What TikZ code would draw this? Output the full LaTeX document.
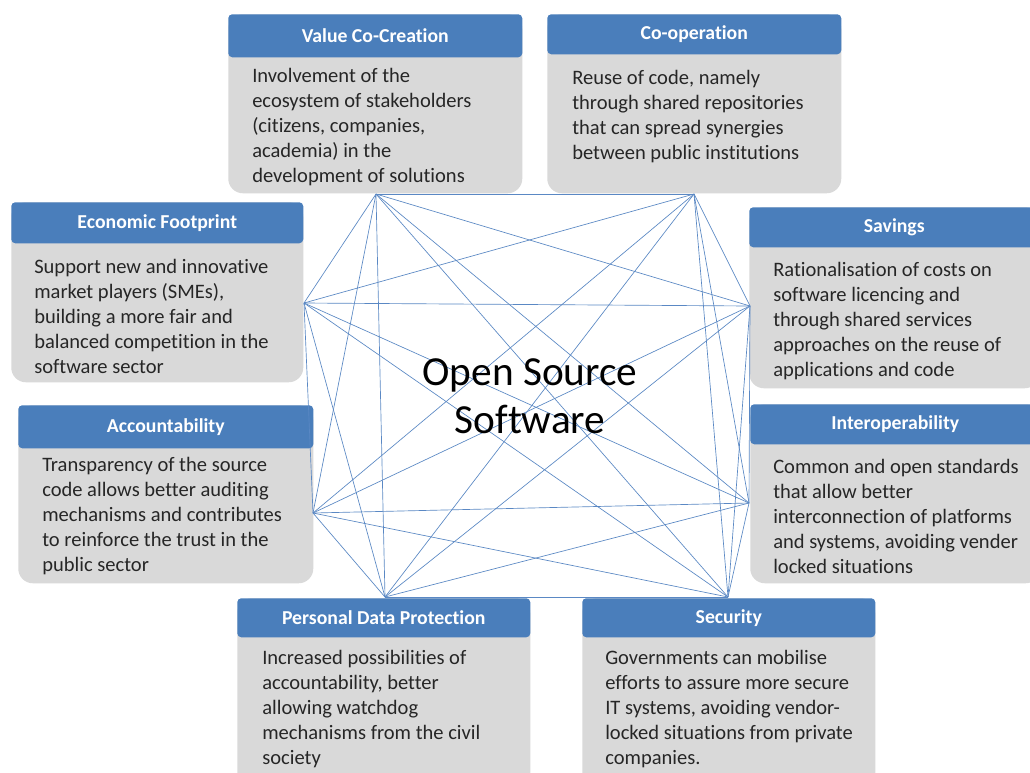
\documentclass[tikz,border=0pt]{standalone}
\usepackage{fontspec}
\setmainfont{Carlito}[RawFeature={-liga;-clig;-calt;-dlig}]
\usetikzlibrary{calc}
\definecolor{hdrblue}{HTML}{4A7EBB}
\definecolor{bodygray}{HTML}{D9D9D9}
\definecolor{linkblue}{HTML}{5A88C4}
\definecolor{ink}{HTML}{262626}
\begin{document}
\begin{tikzpicture}[x=0.75pt,y=-0.75pt,
  hdr/.style={fill=hdrblue, rounded corners=3pt, anchor=north west, inner sep=0pt,
    text=white, font=\bfseries\fontsize{14.8}{17}\selectfont},
  panel/.style={fill=bodygray, rounded corners=11pt, anchor=north west, inner sep=0pt},
  % anchored at the baseline of the last line
  blurb/.style={anchor=base west, align=left, inner sep=0pt, text=ink,
    font=\fontsize{15.4}{18.75}\selectfont},
  link/.style={draw=linkblue, line width=0.5pt}]

\useasboundingbox (0,0) rectangle (1030,772);
\fill[white] (0,0) rectangle (1030,772);

% ---- panels: body, header, description ----
% Value Co-Creation
\node[panel, minimum width=294*0.75pt, minimum height=179*0.75pt] (vB) at (228,14) {};
\node[hdr, minimum width=294*0.75pt, minimum height=43*0.75pt] (vH) at (228,14) {Value Co-Creation};
\node[blurb] (vT) at (252,182) {Involvement of the\\ecosystem of stakeholders\\(citizens, companies,\\academia) in the\\development of solutions};

% Co-operation
\node[panel, minimum width=294*0.75pt, minimum height=179*0.75pt] (cB) at (547,14) {};
\node[hdr, minimum width=294*0.75pt, minimum height=40*0.75pt] (cH) at (547,14) {Co-operation};
\node[blurb] (cT) at (572,159) {Reuse of code, namely\\through shared repositories\\that can spread synergies\\between public institutions};

% Economic Footprint
\node[panel, minimum width=292*0.75pt, minimum height=180*0.75pt] (eB) at (11,202) {};
\node[hdr, minimum width=292*0.75pt, minimum height=41*0.75pt] (eH) at (11,202) {Economic Footprint};
\node[blurb] (eT) at (34,373) {Support new and innovative\\market players (SMEs),\\building a more fair and\\balanced competition in the\\software sector};

% Savings
\node[panel, minimum width=290*0.75pt, minimum height=181*0.75pt] (sB) at (749,207) {};
\node[hdr, minimum width=290*0.75pt, minimum height=40*0.75pt] (sH) at (749,207) {Savings};
\node[blurb] (sT) at (773,376) {Rationalisation of costs on\\software licencing and\\through shared services\\approaches on the reuse of\\applications and code};

% Accountability
\node[panel, minimum width=295*0.75pt, minimum height=178*0.75pt] (aB) at (18,405) {};
\node[hdr, minimum width=295*0.75pt, minimum height=43*0.75pt] (aH) at (18,405) {Accountability};
\node[blurb] (aT) at (42,571) {Transparency of the source\\code allows better auditing\\mechanisms and contributes\\to reinforce the trust in the\\public sector};

% Interoperability
\node[panel, minimum width=290*0.75pt, minimum height=179*0.75pt] (iB) at (750,404) {};
\node[hdr, minimum width=290*0.75pt, minimum height=40*0.75pt] (iH) at (750,404) {Interoperability};
\node[blurb] (iT) at (773,573) {Common and open standards\\that allow better\\interconnection of platforms\\and systems, avoiding vender\\locked situations};

% Personal Data Protection
\node[panel, minimum width=293*0.75pt, minimum height=192*0.75pt] (pB) at (237,598) {};
\node[hdr, minimum width=293*0.75pt, minimum height=39*0.75pt] (pH) at (237,598) {Personal Data Protection};
\node[blurb] (pT) at (262,764) {Increased possibilities of\\accountability, better\\allowing watchdog\\mechanisms from the civil\\society};

% Security
\node[panel, minimum width=293*0.75pt, minimum height=192*0.75pt] (yB) at (582,598) {};
\node[hdr, minimum width=293*0.75pt, minimum height=39*0.75pt] (yH) at (582,598) {Security};
\node[blurb] (yT) at (605,764) {Governments can mobilise\\efforts to assure more secure\\IT systems, avoiding vendor-\\locked situations from private\\companies.};

% ---- attachment points on the panel edges ----
\coordinate (pV) at (376,194);
\coordinate (pC) at (694,194);
\coordinate (pS) at (750,306);
\coordinate (pI) at (749,503);
\coordinate (pY) at (728,597);
\coordinate (pP) at (385,597);
\coordinate (pA) at (313,513);
\coordinate (pE) at (304,303);

% ---- every point joined to every other ----
\foreach [count=\i] \a in {pV,pC,pS,pI,pY,pP,pA,pE}{
  \foreach [count=\j] \b in {pV,pC,pS,pI,pY,pP,pA,pE}{
    \ifnum\j>\i \draw[link] (\a) -- (\b); \fi
  }
}

% ---- centre title ----
\node[align=center, inner sep=0pt, text=black, font=\fontsize{31}{36}\selectfont] (oss) at (530,396) {Open Source\\Software};
\end{tikzpicture}
\end{document}
